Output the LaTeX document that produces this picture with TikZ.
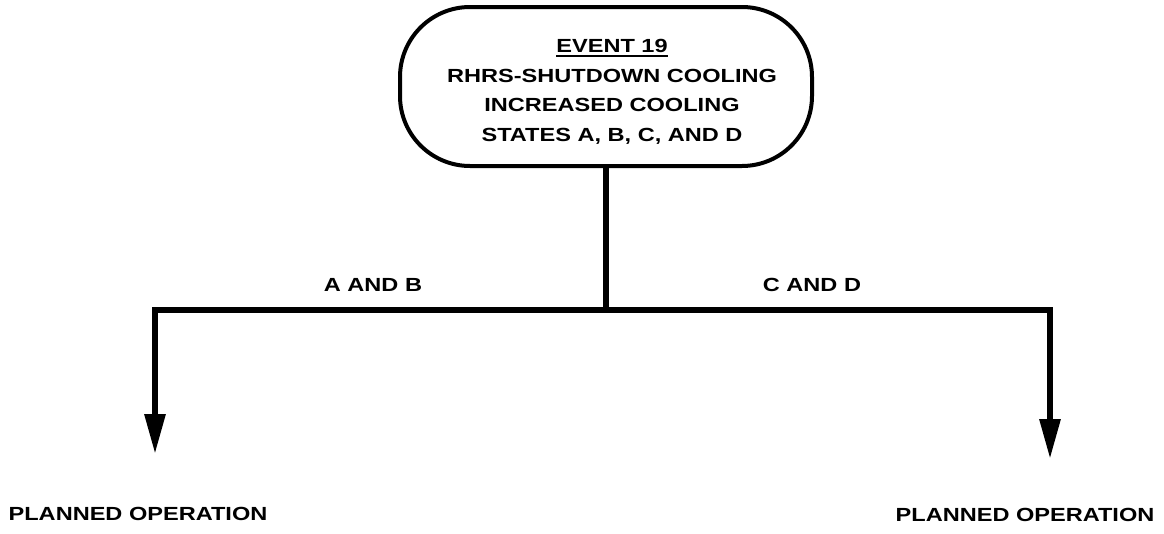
\documentclass[tikz,border=0pt]{standalone}
\usepackage{fontspec}
\setmainfont{Liberation Sans}[FakeStretch=1.24]
\usetikzlibrary{arrows.meta}
\newcommand\thickul[1]{\setbox0\hbox{#1}\rlap{\rule[-4.5pt]{\wd0}{2.6pt}}\box0}
\newcommand\sh{\hspace*{12pt}}
\begin{document}
\begin{tikzpicture}[x=1pt,y=-1pt,
  lbl/.style={font=\fontsize{19}{29.5}\selectfont\bfseries, inner sep=0pt},
  evbox/.style={draw, line width=4pt, rounded corners=70pt, minimum width=412pt, minimum height=159pt, align=center, inner sep=0pt, font=\fontsize{19}{29.5}\selectfont\bfseries},
  conn/.style={line width=6pt, line join=miter},
  arr/.style={conn, -{Triangle[length=40pt,width=20pt]}}]
\useasboundingbox (0,0) rectangle (1164,533);
\node[evbox] (ev) at (606,86.5) {\rule{0pt}{24pt}\sh\thickul{EVENT 19}\\\sh RHRS-SHUTDOWN COOLING\\\sh INCREASED COOLING\\\sh STATES A, B, C, AND D};
\coordinate (j) at (606,310);
\coordinate (la) at (155,454);
\coordinate (ra) at (1050,459);
\draw[conn] (ev.south) -- (j);
\draw[arr] (j) -| (la);
\draw[arr] (j) -| (ra);
\node[lbl] (ab) at (373,285) {A AND B};
\node[lbl] (cd) at (812,285) {C AND D};
\node[lbl] (p1) at (138,514) {PLANNED OPERATION};
\node[lbl] (p2) at (1025,515) {PLANNED OPERATION};
\end{tikzpicture}
\end{document}
